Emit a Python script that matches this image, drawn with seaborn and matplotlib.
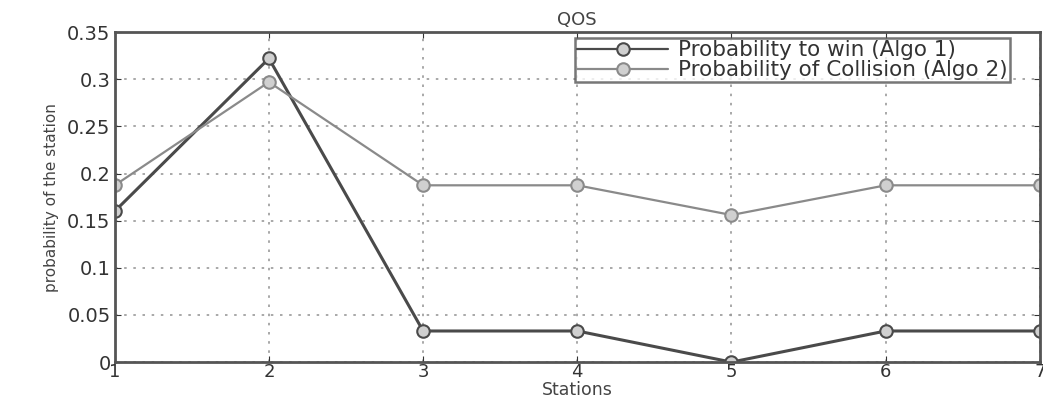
import numpy as np
import pandas as pd
import matplotlib
matplotlib.use("Agg")
import matplotlib.pyplot as plt
import seaborn as sns

stations = [1, 2, 3, 4, 5, 6, 7]
win_algo1 = [0.16, 0.322, 0.033, 0.033, 0.0, 0.033, 0.033]
collision_algo2 = [0.1875, 0.297, 0.1875, 0.1875, 0.156, 0.1875, 0.1875]
series_names = ["Probability to win (Algo 1)", "Probability of Collision (Algo 2)"]

df = pd.concat([
    pd.DataFrame({"Stations": stations, "p": win_algo1, "series": series_names[0]}),
    pd.DataFrame({"Stations": stations, "p": collision_algo2, "series": series_names[1]}),
])

sns.set_style("white")
plt.rcParams["font.family"] = ["DejaVu Sans"]

fig = plt.figure(figsize=(10.43, 4.01), dpi=100)
ax = fig.add_axes([0.110, 0.097, 0.887, 0.823])

edge_colors = ["#4a4a4a", "#8a8a8a"]
palette = dict(zip(series_names, edge_colors))
sns.lineplot(data=df, x="Stations", y="p", hue="series", palette=palette,
             marker="o", markersize=9, markerfacecolor="#d0d0d0",
             markeredgewidth=1.5, linewidth=1.6, ax=ax, legend=True)
for line, mec in zip(ax.lines, edge_colors):
    line.set_markeredgecolor(mec)
ax.lines[0].set_linewidth(2.2)

ax.set_xlim(1, 7)
ax.set_ylim(0, 0.35)
ax.set_xticks(stations)
ax.set_yticks(np.arange(0, 0.351, 0.05))
ax.set_yticklabels(["0", "0.05", "0.1", "0.15", "0.2", "0.25", "0.3", "0.35"])
ax.tick_params(direction="in", length=4, labelsize=14, colors="#333333",
               top=True, right=True, bottom=True, left=True, pad=3)
ax.tick_params(axis="x", pad=1, labelsize=13)
ax.grid(True, linestyle=(0, (1.5, 4)), color="#999999", linewidth=1.2)
for s in ax.spines.values():
    s.set_color("#555555")
    s.set_linewidth(2)

ax.set_title("QOS", fontsize=13, color="#444444", pad=5)
ax.set_xlabel("Stations", fontsize=12.5, color="#444444", labelpad=0)
ax.set_ylabel("probability of the station", fontsize=11, color="#444444", labelpad=6)

leg = ax.legend(loc="upper right", fontsize=15.5, frameon=True, fancybox=False,
                handlelength=4.2, borderpad=0.1, labelspacing=0.0,
                handletextpad=0.5, borderaxespad=0,
                bbox_to_anchor=(0.968, 0.982))
leg.get_frame().set_edgecolor("#555555")
leg.get_frame().set_linewidth(1.8)
for h, mec in zip(leg.legend_handles, edge_colors):
    h.set_markeredgecolor(mec)
    h.set_markerfacecolor("#d0d0d0")
    h.set_markeredgewidth(1.5)
for t in leg.get_texts():
    t.set_color("#333333")

fig.savefig("out.png", dpi=100)
